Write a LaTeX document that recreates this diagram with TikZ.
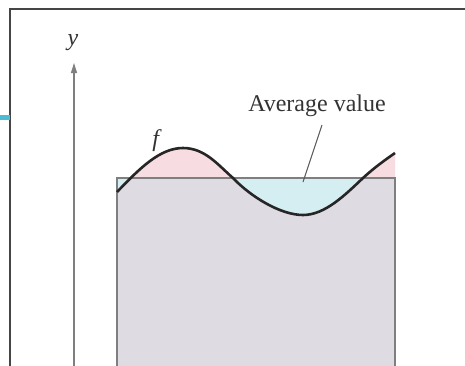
\documentclass[tikz,border=0pt]{standalone}
\usepackage{fontspec}
\setmainfont{Liberation Serif}
\usetikzlibrary{arrows.meta}
\definecolor{avgpink}{HTML}{F7DDE1}
\definecolor{avgblue}{HTML}{D5EEF2}
\definecolor{areafill}{HTML}{DFDBE3}
\definecolor{edgegray}{HTML}{7F7F7F}
\definecolor{framegray}{HTML}{454545}
\definecolor{tabcyan}{HTML}{4BBCD3}

% the graph of f, in pixel units
\def\fcurve{(117,192) .. controls (140,168) and (160,148) .. (183,148)
  .. controls (205,148) and (218,165) .. (233,178)
  .. controls (250,196) and (280,215) .. (303,215)
  .. controls (325,215) and (345,195) .. (363,178)
  .. controls (375,167) and (385,160) .. (395,153)}

\begin{document}
\begin{tikzpicture}[
    x=0.5pt, y=-0.5pt,
    lbl/.style={font=\fontsize{12}{14}\selectfont, inner sep=0pt, text=black!80},
    axisline/.style={draw=edgegray, line width=0.75pt},
    >={Triangle[width=3pt, length=5pt]}
  ]
    \useasboundingbox (0,0) rectangle (465,365);
    \fill[white] (0,0) rectangle (465,365);

    % rectangle of height equal to the average value
    \fill[areafill] (117,178) rectangle (395,366);
    \begin{scope}
      \clip (110,178) rectangle (400,100);
      \fill[avgpink] \fcurve -- (395,178) -- (117,178) -- cycle;
    \end{scope}
    \begin{scope}
      \clip (110,178) rectangle (400,260);
      \fill[avgblue] \fcurve -- (395,178) -- (117,178) -- cycle;
    \end{scope}
    \draw[axisline] (117,366) |- (395,178) -- (395,366);
    \draw[line width=1.3pt, black!85] \fcurve;

    % y-axis
    \coordinate (ybot) at (74,366);
    \coordinate (ytop) at (74,63);
    \node[lbl] (ylab) at (73,43) {\textit{y}};
    \draw[axisline, ->] (ybot) -- (ytop);

    % labels
    \node[lbl] (flab) at (157,141) {\textit{f}};
    \node[lbl] (avg) at (317,106) {Average value};
    \coordinate (avgpt) at (303,182);
    \draw[black!65, line width=0.5pt] (322,125) -- (avgpt);

    % window frame of the screenshot
    \draw[framegray, line width=1pt] (10,366) |- (466,9);
    \draw[tabcyan, line width=2.5pt] (0,117) -- (9.5,117);
  \end{tikzpicture}
\end{document}
